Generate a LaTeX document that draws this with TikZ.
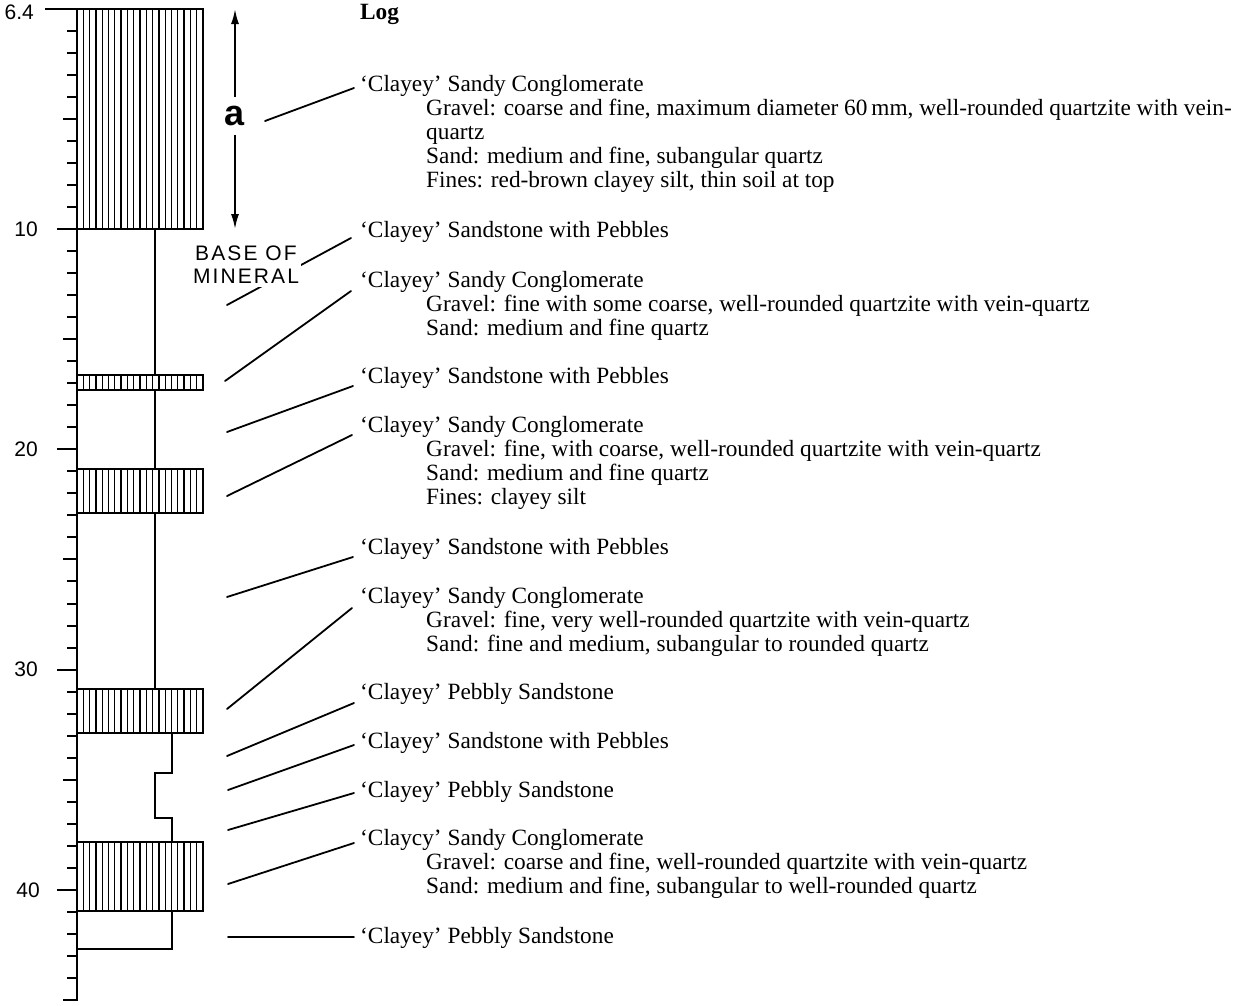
\documentclass[tikz,border=0pt]{standalone}
\usepackage{fontspec}
\setmainfont{Liberation Serif}
\newfontfamily\axisfont{Liberation Sans}
\newfontfamily\spacedfont[LetterSpace=10]{Liberation Sans}
\usetikzlibrary{arrows.meta}
\newcommand\hatchbox[2]{%
  \foreach \xx in {83.3,89.6,...,198} {\draw[hatch] (\xx,#1) -- (\xx,#2);}
  \draw[outl] (77,#1) rectangle (203,#2);}
\begin{document}
\begin{tikzpicture}[x=1pt,y=-1pt,
  every node/.style={inner sep=0pt},
  txt/.style={anchor=base west, font=\fontsize{23.3}{24}\selectfont},
  lbl/.style={anchor=east, font=\axisfont\fontsize{21}{21}\selectfont},
  conn/.style={line width=1.8pt, line cap=round},
  outl/.style={line width=1.8pt},
  hatch/.style={line width=1.3pt},
  axisline/.style={line width=2.2pt},
  tick/.style={line width=2pt},
  profile/.style={line width=1.5pt},
  arr/.style={line width=1.8pt, -{Latex[length=15pt,width=8pt]}},
]
\useasboundingbox (0,0) rectangle (1254,1005);

% ---------------- column ----------------
\hatchbox{9}{229}
\hatchbox{375}{390}
\hatchbox{469}{513}
\hatchbox{689}{733}
\hatchbox{842}{911}
\draw[axisline] (77,9) -- (77,1001);
\draw[outl] (45,9) -- (203,9);
\foreach \d in {1,...,45} {
  \pgfmathsetmacro{\yy}{8.7+22.03*\d}
  \pgfmathsetmacro{\xs}{ifthenelse(mod(\d,10)==0,57,ifthenelse(mod(\d,5)==0,63,67))}
  \draw[tick] (\xs,\yy) -- (77,\yy);
}
\draw[profile] (155,229) -- (155,375);
\draw[profile] (155,390) -- (155,469);
\draw[profile] (155,513) -- (155,689);
\draw[profile] (172,733) -- (172,773) -- (155,773) -- (155,818) -- (172,818) -- (172,842);
\draw[profile] (172,911) -- (172,949) -- (77,949);

% axis labels
\node[lbl] (l64) at (34,12) {6.4};
\node[lbl] (l10) at (38,229) {10};
\node[lbl] (l20) at (38,449) {20};
\node[lbl] (l30) at (38,669) {30};
\node[lbl] (l40) at (40,890) {40};

% arrow a
\coordinate (atop) at (235,9);
\coordinate (abot) at (235,229);
\node[font=\axisfont\bfseries\fontsize{36}{36}\selectfont, inner ysep=9pt] (a) at (235,116) {a};
\draw[arr] (a.north) -- (atop);
\draw[arr] (a.south) -- (abot);

% ---------------- text ----------------
\node[txt, font=\bfseries\fontsize{23.3}{24}\selectfont] (log) at (360,19) {Log};

\node[txt] (e1) at (360,91) {‘Clayey’ Sandy Conglomerate};
\node[txt] (e1a) at (426,115) {Gravel: coarse and fine, maximum diameter 60\,mm, well-rounded quartzite with vein-};
\node[txt] (e1b) at (426,139) {quartz};
\node[txt] (e1c) at (426,163) {Sand: medium and fine, subangular quartz};
\node[txt] (e1d) at (426,187) {Fines: red-brown clayey silt, thin soil at top};

\node[txt] (e2) at (360,237) {‘Clayey’ Sandstone with Pebbles};

\node[txt] (e3) at (360,287) {‘Clayey’ Sandy Conglomerate};
\node[txt] (e3a) at (426,311) {Gravel: fine with some coarse, well-rounded quartzite with vein-quartz};
\node[txt] (e3b) at (426,335) {Sand: medium and fine quartz};

\node[txt] (e4) at (360,383) {‘Clayey’ Sandstone with Pebbles};

\node[txt] (e5) at (360,432) {‘Clayey’ Sandy Conglomerate};
\node[txt] (e5a) at (426,456) {Gravel: fine, with coarse, well-rounded quartzite with vein-quartz};
\node[txt] (e5b) at (426,480) {Sand: medium and fine quartz};
\node[txt] (e5c) at (426,504) {Fines: clayey silt};

\node[txt] (e6) at (360,554) {‘Clayey’ Sandstone with Pebbles};

\node[txt] (e7) at (360,603) {‘Clayey’ Sandy Conglomerate};
\node[txt] (e7a) at (426,627) {Gravel: fine, very well-rounded quartzite with vein-quartz};
\node[txt] (e7b) at (426,651) {Sand: fine and medium, subangular to rounded quartz};

\node[txt] (e8) at (360,699) {‘Clayey’ Pebbly Sandstone};
\node[txt] (e9) at (360,748) {‘Clayey’ Sandstone with Pebbles};
\node[txt] (e10) at (360,797) {‘Clayey’ Pebbly Sandstone};

\node[txt] (e11) at (360,845) {‘Claycy’ Sandy Conglomerate};
\node[txt] (e11a) at (426,869) {Gravel: coarse and fine, well-rounded quartzite with vein-quartz};
\node[txt] (e11b) at (426,893) {Sand: medium and fine, subangular to well-rounded quartz};

\node[txt] (e12) at (360,943) {‘Clayey’ Pebbly Sandstone};

% ---------------- connectors ----------------
\coordinate (p1) at (265,121);  \coordinate (q1) at (354,88);
\coordinate (p2) at (227,305);  \coordinate (q2) at (351,238);
\coordinate (p3) at (225,381);  \coordinate (q3) at (351,291);
\coordinate (p4) at (227,432);  \coordinate (q4) at (353,386);
\coordinate (p5) at (227,496);  \coordinate (q5) at (352,435);
\coordinate (p6) at (227,597);  \coordinate (q6) at (353,557);
\coordinate (p7) at (227,709);  \coordinate (q7) at (352,608);
\coordinate (p8) at (227,756);  \coordinate (q8) at (354,703);
\coordinate (p9) at (228,790);  \coordinate (q9) at (354,745);
\coordinate (p10) at (228,830); \coordinate (q10) at (354,793);
\coordinate (p11) at (228,884); \coordinate (q11) at (354,843);
\coordinate (p12) at (228,937); \coordinate (q12) at (354,937);
\foreach \i in {1,...,12} {\draw[conn] (p\i) -- (q\i);}

\node[font=\spacedfont\fontsize{21}{23}\selectfont, align=center, fill=white, inner xsep=2pt, inner ysep=3pt] (base) at (246,265) {BASE OF\\MINERAL};
\end{tikzpicture}
\end{document}
